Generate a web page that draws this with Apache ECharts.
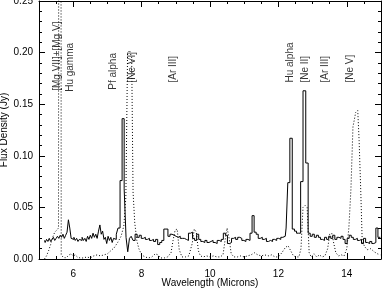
<!DOCTYPE html>
<html><head><meta charset="utf-8">
<script src="https://cdn.jsdelivr.net/npm/echarts@6/dist/echarts.min.js"></script>
<style>html,body{margin:0;padding:0;background:#fff}#c{width:382px;height:288px}</style>
</head><body><div id="c"></div>
<script>
// Observed spectrum (solid histogram)
const solidWave = [
  5.16,5.20,5.24,5.28,5.32,5.36,5.40,5.44,5.48,5.52,
  5.56,5.60,5.64,5.68,5.72,5.76,5.80,5.84,5.88,5.92,
  5.96,6.00,6.04,6.08,6.12,6.16,6.20,6.24,6.28,6.32,
  6.36,6.40,6.44,6.48,6.52,6.56,6.60,6.64,6.68,6.72,
  6.76,6.80,6.84,6.88,6.92,6.96,7.00,7.04,7.08,7.12,
  7.16,7.20,7.24,7.28,7.34,7.40,7.46,7.52,7.57,7.62,
  7.67,7.72,7.78,7.84,7.90,7.96,8.02,8.08,8.14,8.20,
  8.26,8.32,8.38,8.44,8.50,8.56,8.62,8.68,8.74,8.80,
  8.86,8.92,8.98,9.04,9.10,9.16,9.22,9.28,9.34,9.40,
  9.46,9.52,9.58,9.64,9.70,9.76,9.82,9.88,9.94,10.00,
  10.06,10.12,10.18,10.24,10.30,10.36,10.42,10.48,10.54,10.60,
  10.66,10.72,10.78,10.84,10.90,10.96,11.02,11.08,11.14,11.20,
  11.26,11.32,11.38,11.44,11.50,11.56,11.62,11.68,11.74,11.80,
  11.86,11.92,11.98,12.04,12.10,12.16,12.20,12.25,12.30,12.37,
  12.44,12.50,12.56,12.62,12.68,12.76,12.84,12.90,12.96,13.02,
  13.08,13.14,13.20,13.26,13.32,13.38,13.44,13.50,13.56,13.62,
  13.68,13.74,13.80,13.86,13.92,13.98,14.04,14.10,14.16,14.22,
  14.28,14.34,14.40,14.46,14.52,14.58,14.64,14.70,14.76,14.82,
  14.88,14.94,14.98
];
const solidFlux = [
  .018,.016,.019,.017,.020,.017,.019,.021,.018,.020,
  .022,.020,.023,.021,.024,.020,.023,.026,.038,.030,
  .020,.019,.021,.018,.020,.017,.019,.018,.021,.018,
  .020,.017,.022,.019,.023,.020,.025,.021,.024,.020,
  .027,.033,.024,.027,.019,.021,.015,.022,.018,.021,
  .016,.020,.019,.024,.030,.076,.136,.068,.021,.007,
  .020,.022,.018,.024,.021,.023,.020,.021,.019,.020,
  .018,.019,.017,.019,.014,.016,.018,.029,.029,.022,
  .024,.023,.022,.021,.022,.020,.020,.019,.018,.025,
  .026,.020,.018,.024,.019,.017,.016,.018,.016,.017,
  .018,.016,.015,.018,.017,.019,.025,.023,.015,.016,
  .020,.021,.019,.021,.020,.018,.017,.019,.018,.025,
  .042,.026,.024,.020,.021,.019,.020,.017,.018,.017,
  .019,.018,.020,.019,.021,.022,.022,.030,.074,.117,
  .029,.027,.025,.025,.075,.163,.093,.025,.022,.024,
  .021,.023,.021,.019,.018,.021,.019,.022,.020,.023,
  .019,.021,.020,.022,.019,.015,.020,.023,.021,.019,
  .020,.018,.019,.015,.020,.016,.015,.017,.015,.016,
  .030,.021,.021
];
// Comparison spectrum (dotted)
const dottedWave = [
  5.16,5.22,5.28,5.34,5.40,5.46,5.52,5.57,5.58,5.64,5.65,
  5.70,5.76,5.82,5.88,5.94,6.00,6.06,6.12,6.20,6.30,
  6.40,6.50,6.60,6.70,6.80,6.90,7.00,7.10,7.20,7.30,
  7.40,7.48,7.54,7.59,7.65,7.71,7.75,7.80,7.86,7.92,
  8.00,8.10,8.20,8.30,8.40,8.48,8.56,8.66,8.76,8.86,
  8.92,8.98,9.04,9.10,9.18,9.28,9.38,9.48,9.54,9.60,
  9.66,9.72,9.80,9.90,10.00,10.10,10.20,10.30,10.38,10.44,
  10.50,10.56,10.62,10.70,10.80,10.90,11.00,11.10,11.20,11.30,
  11.40,11.50,11.60,11.70,11.80,11.90,12.00,12.10,12.20,12.28,
  12.36,12.44,12.52,12.60,12.66,12.72,12.78,12.84,12.90,12.96,
  13.04,13.12,13.20,13.28,13.36,13.44,13.50,13.56,13.62,13.68,
  13.76,13.84,13.92,14.00,14.06,14.12,14.18,14.26,14.32,14.36,
  14.41,14.45,14.52,14.60,14.70,14.80,14.90,14.98
];
const dottedFlux = [
  .000,.003,.008,.014,.021,.026,.028,.030,.500,.500,.004,
  .002,.001,.002,.004,.005,.003,.004,.002,.001,.001,
  .002,.001,.003,.004,.003,.004,.005,.008,.011,.016,
  .022,.032,.060,.200,.202,.195,.065,.035,.018,.010,
  .004,.002,.001,.002,.005,.004,.001,.001,.002,.006,
  .018,.028,.029,.009,.002,.002,.003,.015,.029,.026,
  .008,.003,.002,.003,.002,.003,.002,.002,.004,.018,
  .030,.020,.005,.002,.002,.003,.002,.003,.004,.006,
  .004,.003,.004,.003,.004,.002,.002,.006,.011,.013,
  .008,.003,.002,.002,.010,.050,.052,.050,.006,.002,
  .005,.002,.004,.002,.003,.010,.024,.025,.015,.006,
  .003,.004,.003,.010,.030,.067,.128,.142,.144,.115,
  .064,.018,.012,.009,.010,.007,.005,.004
];
// Line identifications
const lineLabels = ["[Mg VII]+[Mg V]", "Hu gamma", "Pf alpha", "[Ne VI]", "[Ar III]", "Hu alpha", "[Ne II]", "[Ar III]", "[Ne V]"];
const labelWave  = [5.53, 5.91, 7.16, 7.72, 8.92, 12.34, 12.78, 13.36, 14.09];
const labelBase  = [0.163, 0.162, 0.164, 0.171, 0.171, 0.171, 0.171, 0.171, 0.171];

const FONT = '"Liberation Sans", Helvetica, Arial, sans-serif';
const NUMFONT = '"Liberation Sans Narrow", "Liberation Sans", Helvetica, Arial, sans-serif';
const chart = echarts.init(document.getElementById('c'), null, {renderer: 'canvas'});

function xAx(pos, labels) {
  return {
    type: 'value', position: pos, min: 5, max: 15, splitNumber: 5,
    axisLine: {show: true, onZero: false, lineStyle: {color: '#000', width: 1}},
    axisTick: {show: true, inside: true, length: 6, lineStyle: {color: '#000', width: 1}},
    minorTick: {show: true, splitNumber: 4, length: 3, lineStyle: {color: '#000', width: 1}},
    splitLine: {show: false},
    axisLabel: {show: labels, color: '#000', fontSize: 10, fontFamily: NUMFONT, margin: 10,
                showMinLabel: false, showMaxLabel: false},
    name: labels ? 'Wavelength (Microns)' : '', nameLocation: 'middle', nameGap: 19,
    nameMoveOverlap: false,
    nameTextStyle: {color: '#000', fontSize: 10, fontFamily: FONT}
  };
}
function yAx(pos, labels) {
  return {
    type: 'value', position: pos, min: 0, max: 0.25, interval: 0.05,
    axisLine: {show: true, onZero: false, lineStyle: {color: '#000', width: 1}},
    axisTick: {show: true, inside: true, length: 6, lineStyle: {color: '#000', width: 1}},
    minorTick: {show: true, splitNumber: 5, length: 3, lineStyle: {color: '#000', width: 1}},
    splitLine: {show: false},
    axisLabel: {show: labels, color: '#000', fontSize: 10, fontFamily: NUMFONT, margin: 6,
                formatter: v => v.toFixed(2)},
    name: labels ? 'Flux Density (Jy)' : '', nameLocation: 'middle', nameGap: 30,
    nameMoveOverlap: false,
    nameTextStyle: {color: '#000', fontSize: 10, fontFamily: FONT}
  };
}

chart.setOption({
  animation: false,
  backgroundColor: '#fff',
  grid: {left: 39, right: 1, top: 1, bottom: 29, containLabel: false, outerBoundsMode: 'none'},
  xAxis: [xAx('bottom', true), xAx('top', false)],
  yAxis: [yAx('left', true), yAx('right', false)],
  series: [
    {
      type: 'line', xAxisIndex: 0, yAxisIndex: 0, step: 'middle', symbol: 'none',
      data: solidWave.map((w, i) => [w, solidFlux[i]]),
      lineStyle: {color: '#000', width: 1}, silent: true, clip: true
    },
    {
      type: 'line', xAxisIndex: 0, yAxisIndex: 0, symbol: 'none',
      data: dottedWave.map((w, i) => [w, dottedFlux[i]]),
      lineStyle: {color: '#000', width: 1, type: [1, 2]}, silent: true, clip: true
    },
    {
      type: 'scatter', xAxisIndex: 0, yAxisIndex: 0, symbolSize: 0.1,
      itemStyle: {color: 'transparent'}, silent: true,
      data: labelWave.map((w, i) => [w, labelBase[i]]),
      label: {
        show: true, position: 'inside', rotate: 90, align: 'left', verticalAlign: 'middle',
        color: '#000', fontSize: 10, fontFamily: FONT,
        formatter: p => lineLabels[p.dataIndex]
      }
    }
  ]
});
</script>
</body></html>
